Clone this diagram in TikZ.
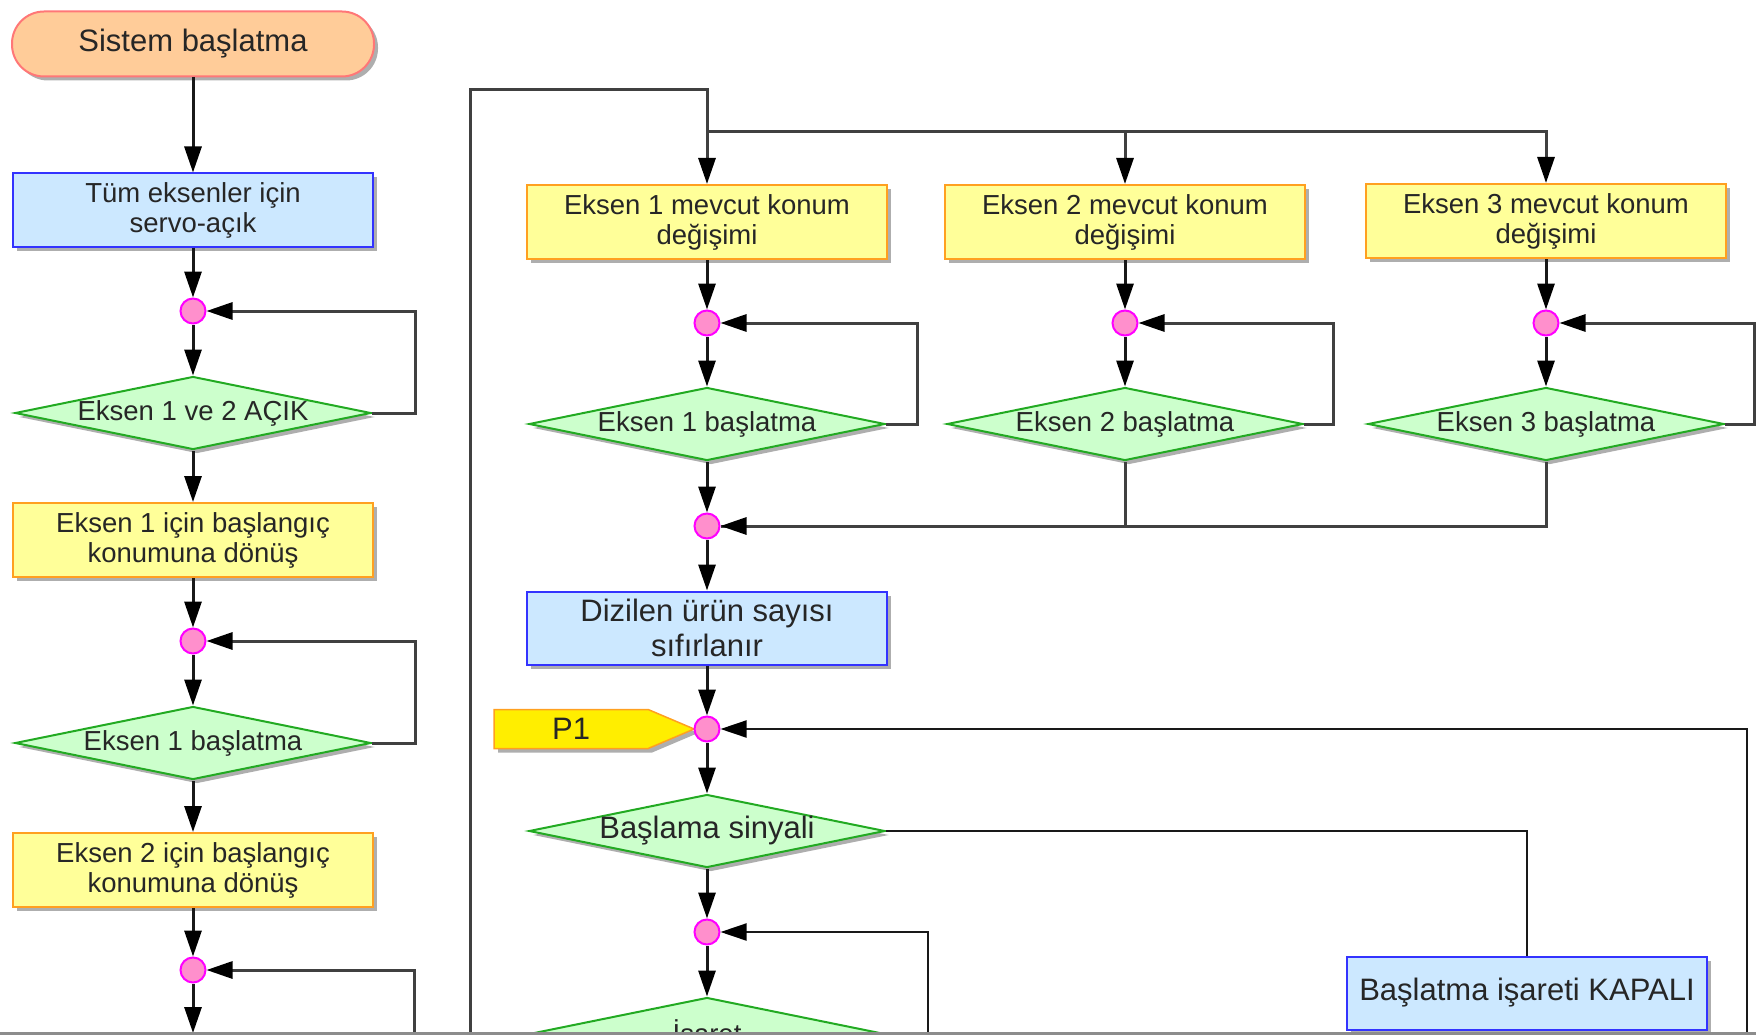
\documentclass[tikz,border=0pt]{standalone}
\usepackage{fontspec}
\setmainfont{Liberation Sans}
\usetikzlibrary{arrows.meta,shapes.geometric,shapes.symbols,shadows}
\definecolor{peach}{HTML}{FFCC99}
\definecolor{peachline}{HTML}{FF7777}
\definecolor{skyfill}{HTML}{CCE8FF}
\definecolor{skyline}{HTML}{3333FF}
\definecolor{lemonfill}{HTML}{FFFF99}
\definecolor{lemonline}{HTML}{FFA020}
\definecolor{mintfill}{HTML}{CCFFCC}
\definecolor{mintline}{HTML}{22AA22}
\definecolor{tagfill}{HTML}{FFEE00}
\definecolor{dotfill}{HTML}{FF8FCC}
\definecolor{dotline}{HTML}{FF00FF}
\newcommand{\dtext}[1]{\makebox[0pt]{#1}}
\tikzset{
    shadowed/.style = {drop shadow={shadow xshift=4pt, shadow yshift=-4pt, fill=black!45, opacity=.7}},
    small-text/.style = {font=\fontsize{27.5}{30}\selectfont, text=black!85},
    large-text/.style = {font=\fontsize{31}{35}\selectfont, text=black!85},
    start-box/.style = {draw=peachline, fill=peach, line width=2pt, rectangle, rounded corners=32pt, minimum width=362pt, minimum height=65pt, shadowed, large-text},
    process-box/.style = {draw=skyline, fill=skyfill, line width=2pt, rectangle, minimum width=360pt, minimum height=73pt, align=center, inner sep=0pt, shadowed},
    move-box/.style = {draw=lemonline, fill=lemonfill, line width=2pt, rectangle, minimum width=360pt, minimum height=74pt, align=center, inner sep=0pt, shadowed, small-text},
    decision-box/.style = {draw=mintline, fill=mintfill, line width=2pt, diamond, minimum width=356pt, minimum height=73pt, inner sep=0pt, shadowed, small-text},
    join-dot/.style = {draw=dotline, fill=dotfill, line width=2pt, circle, minimum size=25pt, inner sep=0pt},
    page-tag/.style = {draw=lemonline, fill=tagfill, line width=1.5pt, signal, signal to=east, signal pointer angle=46, minimum width=200pt, minimum height=39pt, inner sep=0pt, shadowed, large-text},
    flow-arrow/.style = {draw=black!90, line width=3pt, -{Triangle[length=26pt,width=17pt,color=black]}},
    loop-arrow/.style = {flow-arrow, draw=black!75},
    loop-line/.style = {draw=black!75, line width=3pt},
    thin-arrow/.style = {draw=black!90, line width=2pt, -{Triangle[length=26pt,width=17pt,color=black]}},
    thin-line/.style = {draw=black!90, line width=2pt},
}
\begin{document}
\begin{tikzpicture}[x=1pt, y=-1pt]
\clip (0,0) rectangle (1756,1035);

\node[start-box] (baslat) at (193,44) {Sistem başlatma};
\node[process-box, small-text] (servo) at (193,210) {Tüm eksenler için\\servo-açık};
\node[join-dot] (j1) at (193,311) {};
\node[decision-box] (acik) at (193,413) {\dtext{Eksen 1 ve 2 AÇIK}};
\node[move-box] (ev1) at (193,540) {Eksen 1 için başlangıç\\konumuna dönüş};
\node[join-dot] (j2) at (193,641) {};
\node[decision-box] (sol1) at (193,743) {\dtext{Eksen 1 başlatma}};
\node[move-box] (ev2) at (193,870) {Eksen 2 için başlangıç\\konumuna dönüş};
\node[join-dot] (j3) at (193,970) {};
\coordinate (alt1) at (193,1033);
\coordinate (alt2) at (414,1035);

\node[move-box] (konum1) at (707,222) {Eksen 1 mevcut konum\\değişimi};
\node[move-box] (konum2) at (1125,222) {Eksen 2 mevcut konum\\değişimi};
\node[move-box] (konum3) at (1546,221) {Eksen 3 mevcut konum\\değişimi};
\node[join-dot] (k1) at (707,323) {};
\node[join-dot] (k2) at (1125,323) {};
\node[join-dot] (k3) at (1546,323) {};
\node[decision-box] (bas1) at (707,424) {\dtext{Eksen 1 başlatma}};
\node[decision-box] (bas2) at (1125,424) {\dtext{Eksen 2 başlatma}};
\node[decision-box] (bas3) at (1546,424) {\dtext{Eksen 3 başlatma}};
\node[join-dot] (topla) at (707,526) {};
\node[process-box, large-text] (sayac) at (707,628) {Dizilen ürün sayısı\\sıfırlanır};
\node[page-tag, anchor=east] (p1) at (696,729) {P1};
\node[join-dot] (p1j) at (707,729) {};
\node[decision-box, large-text] (sinyal) at (707,831) {\dtext{Başlama sinyali}};
\node[join-dot] (j5) at (707,932) {};
\node[decision-box] (isaret) at (707,1034) {\dtext{İşaret}};
\node[process-box, large-text] (kapali) at (1527,993) {Başlatma işareti KAPALI};
\coordinate (donus) at (470,1035);
\coordinate (dal) at (707,132);
\coordinate (geri) at (1747,1035);
\coordinate (geri2) at (928,1035);

\draw[flow-arrow] (baslat) -- (servo);
\draw[flow-arrow] (servo) -- (j1);
\draw[flow-arrow] (j1) -- (acik);
\draw[loop-arrow] (acik.east) -- ++(43,0) |- (j1);
\draw[flow-arrow] (acik) -- (ev1);
\draw[flow-arrow] (ev1) -- (j2);
\draw[flow-arrow] (j2) -- (sol1);
\draw[loop-arrow] (sol1.east) -- ++(43,0) |- (j2);
\draw[flow-arrow] (sol1) -- (ev2);
\draw[flow-arrow] (ev2) -- (j3);
\draw[flow-arrow] (j3) -- (alt1);
\draw[loop-arrow] (alt2) |- (j3);

\draw[loop-arrow] (donus) -- (470,90) -| (konum1);
\draw[loop-arrow] (dal) -| (konum2);
\draw[loop-arrow] (dal) -| (konum3);
\draw[flow-arrow] (konum1) -- (k1);
\draw[flow-arrow] (konum2) -- (k2);
\draw[flow-arrow] (konum3) -- (k3);
\draw[flow-arrow] (k1) -- (bas1);
\draw[flow-arrow] (k2) -- (bas2);
\draw[flow-arrow] (k3) -- (bas3);
\draw[loop-arrow] (bas1.east) -- ++(31,0) |- (k1);
\draw[loop-arrow] (bas2.east) -- ++(29,0) |- (k2);
\draw[loop-arrow] (bas3.east) -- ++(29,0) |- (k3);
\draw[flow-arrow] (bas1) -- (topla);
\draw[loop-line] (bas2.south) |- (topla);
\draw[loop-arrow] (bas3.south) |- (topla);
\draw[flow-arrow] (topla) -- (sayac);
\draw[flow-arrow] (sayac) -- (p1j);
\draw[thin-arrow] (geri) |- (p1j);
\draw[flow-arrow] (p1j) -- (sinyal);
\draw[thin-line] (sinyal.east) -| (kapali.north);
\draw[flow-arrow] (sinyal) -- (j5);
\draw[flow-arrow] (j5) -- (isaret);
\draw[thin-arrow] (geri2) |- (j5);

\draw[black!45, line width=3pt] (0,1033) -- (1756,1033);
\end{tikzpicture}
\end{document}
